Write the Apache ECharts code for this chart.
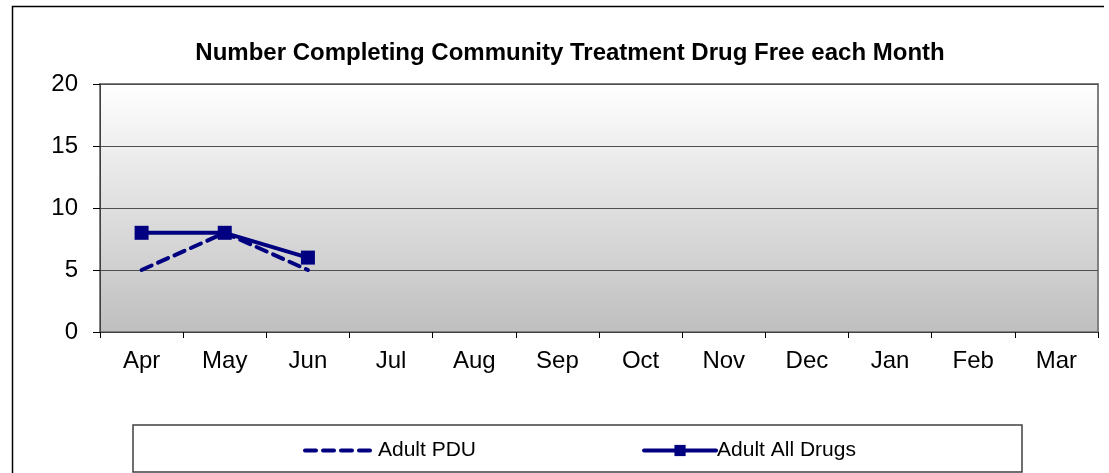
<!DOCTYPE html>
<html>
<head>
<meta charset="utf-8">
<script src="https://cdn.jsdelivr.net/npm/echarts@6/dist/echarts.min.js"></script>
<style>
html,body{margin:0;padding:0;background:#fff;}
#c{width:1109px;height:473px;}
</style>
</head>
<body>
<div id="c"></div>
<script>
var titleText = 'Number Completing Community Treatment Drug Free each Month';
var months = ['Apr','May','Jun','Jul','Aug','Sep','Oct','Nov','Dec','Jan','Feb','Mar'];
var adultPDU = [5, 8, 5, null, null, null, null, null, null, null, null, null];
var adultAllDrugs = [8, 8, 6, null, null, null, null, null, null, null, null, null];
var seriesNames = ['Adult PDU', 'Adult All Drugs'];
var yTicks = {min: 0, max: 20, interval: 5};

var FONT = 'Liberation Sans, Arial, sans-serif';
var chart = echarts.init(document.getElementById('c'), null, {renderer: 'canvas'});
chart.setOption({
  animation: false,
  backgroundColor: '#ffffff',
  title: {
    text: titleText,
    left: 565, top: 36, textAlign: 'center',
    textStyle: {fontFamily: FONT, fontWeight: 'bold', fontSize: 24, color: '#000'}
  },
  grid: {
    left: 100, right: 11, top: 84, bottom: 141,
    show: true,
    backgroundColor: new echarts.graphic.LinearGradient(0, 0, 0, 1, [
      {offset: 0, color: '#ffffff'},
      {offset: 1, color: '#bfbfbf'}
    ]),
    borderColor: '#808080', borderWidth: 2
  },
  xAxis: {
    type: 'category', data: months, boundaryGap: true,
    axisLine: {show: true, lineStyle: {color: '#404040', width: 1}},
    axisTick: {show: true, length: 6, inside: false, lineStyle: {color: '#000'}},
    axisLabel: {fontFamily: FONT, fontSize: 24, color: '#000', margin: 17}
  },
  yAxis: {
    type: 'value', min: yTicks.min, max: yTicks.max, interval: yTicks.interval,
    axisLine: {show: true, lineStyle: {color: '#404040', width: 1}},
    axisTick: {show: true, length: 7, lineStyle: {color: '#000'}},
    axisLabel: {fontFamily: FONT, fontSize: 24, color: '#000', margin: 22},
    splitLine: {show: true, lineStyle: {color: '#505050', width: 1}}
  },
  legend: {
    left: 298, top: 435,
    itemWidth: 72, itemHeight: 14, itemGap: 166,
    lineStyle: {width: 4, cap: 'round'},
    textStyle: {fontFamily: FONT, fontSize: 21, color: '#000', padding: [0,0,0,-4]},
    data: seriesNames
  },
  graphic: [
    {type: 'polyline', shape: {points: [[12.5, 473], [12.5, 6.5], [1104, 6.5]]},
     style: {stroke: '#000', lineWidth: 1.5, fill: null}, silent: true},
    {type: 'rect', shape: {x: 133, y: 425, width: 889, height: 47},
     style: {stroke: '#404040', lineWidth: 1.5, fill: 'rgba(0,0,0,0)'}, silent: true, z: -1}
  ],
  series: [
    {
      name: seriesNames[0], type: 'line', data: adultPDU,
      symbol: 'circle', showSymbol: false, connectNulls: false,
      lineStyle: {color: '#000080', width: 4, type: [11, 7], cap: 'round'},
      itemStyle: {color: 'rgba(0,0,0,0)', borderWidth: 0}
    },
    {
      name: seriesNames[1], type: 'line', data: adultAllDrugs,
      symbol: 'rect', symbolSize: 14, showSymbol: true,
      lineStyle: {color: '#000080', width: 4},
      itemStyle: {color: '#000080'}
    }
  ]
});
</script>
</body>
</html>
